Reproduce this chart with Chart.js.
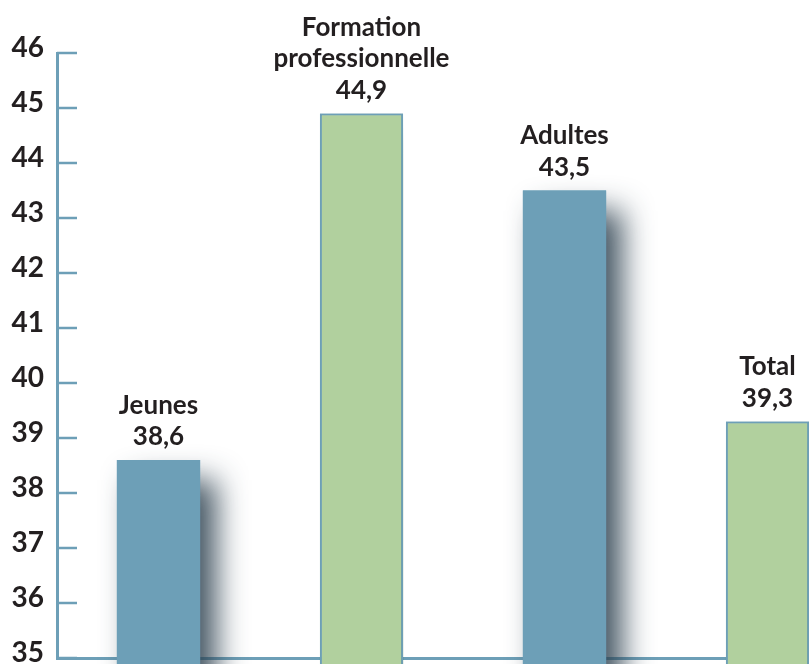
<!DOCTYPE html>
<html><head><meta charset="utf-8">
<script src="https://cdn.jsdelivr.net/npm/chart.js@4"></script>
<style>
html,body{margin:0;padding:0;overflow:hidden;background:#fff;width:809px;height:664px}
#wrap{width:869px;height:664px;position:relative}
</style></head>
<body><div id="wrap"><canvas id="c" width="869" height="664"></canvas></div>
<script>
const categories = [["Jeunes"], ["Formation", "professionnelle"], ["Adultes"], ["Total"]];
const values = [38.6, 44.9, 43.5, 39.3];
const yMin = 35, yMax = 46, yStep = 1;
const barColors = ['#6d9fb7', '#b1d09e', '#6d9fb7', '#b1d09e'];
const borderColors = ['#6d9fb7', '#6d9fb7', '#6d9fb7', '#6d9fb7'];
const borderWidths = [0, 2, 0, 2];
const shadowColors = ['rgba(45,65,80,0.9)', 'rgba(80,110,55,0.9)', 'rgba(45,65,80,0.9)', 'rgba(80,110,55,0.9)'];
const axisColor = '#6d9fb7';
const textColor = '#231f20';
const fmt = v => v.toFixed(1).replace('.', ',');

const shadowPlugin = {
  id: 'shadow',
  beforeDatasetDraw(chart, args) {
    const ctx = chart.ctx;
    args.meta.data.forEach((el, i) => {
      ctx.save();
      ctx.shadowColor = shadowColors[i];
      ctx.shadowBlur = 30;
      ctx.shadowOffsetX = 16;
      ctx.shadowOffsetY = 20;
      el.draw(ctx, chart.chartArea);
      ctx.restore();
      el.draw(ctx, chart.chartArea);
    });
    return false;
  }
};

const labelPlugin = {
  id: 'labels',
  afterDraw(chart) {
    const ctx = chart.ctx;
    const meta = chart.getDatasetMeta(0);
    ctx.save();
    ctx.fillStyle = textColor;
    ctx.textAlign = 'center';
    ctx.textBaseline = 'middle';
    ctx.font = '700 26px Lato';
    meta.data.forEach((el, i) => {
      const lines = categories[i].concat([fmt(values[i])]);
      const n = lines.length;
      lines.forEach((t, k) => {
        const y = el.y - 23 - (n - 1 - k) * 31.5;
        ctx.fillText(t, el.x, y);
      });
    });
    ctx.restore();
  }
};

const tickMarkPlugin = {
  id: 'tickmarks',
  afterDraw(chart) {
    const ctx = chart.ctx;
    const ys = chart.scales.y;
    ctx.save();
    ctx.strokeStyle = axisColor;
    ctx.lineWidth = 2.5;
    ys.ticks.forEach(t => {
      const y = ys.getPixelForValue(t.value);
      ctx.beginPath();
      ctx.moveTo(ys.right, y);
      ctx.lineTo(ys.right + 20, y);
      ctx.stroke();
    });
    ctx.restore();
  }
};

new Chart(document.getElementById('c'), {
  type: 'bar',
  data: {
    labels: categories,
    datasets: [{
      data: values,
      backgroundColor: barColors,
      borderColor: borderColors,
      borderWidth: borderWidths,
      barPercentage: 0.41,
      categoryPercentage: 1
    }]
  },
  options: {
    responsive: false,
    devicePixelRatio: 1,
    animation: false,
    layout: { padding: { top: 53, right: 0, left: 0, bottom: 0 } },
    plugins: { legend: { display: false }, tooltip: { enabled: false } },
    scales: {
      x: {
        z: 1,
        grid: { display: false },
        border: { display: true, color: axisColor, width: 3 },
        ticks: { display: false },
        afterFit: s => { s.height = 6; s.paddingLeft = 0; s.paddingRight = 0; }
      },
      y: {
        z: 1,
        min: yMin, max: yMax,
        grid: { display: false, drawTicks: false },
        border: { display: true, color: axisColor, width: 3 },
        ticks: {
          stepSize: yStep,
          padding: 13,
          labelOffset: -5,
          color: textColor,
          font: { family: 'Lato', size: 28, weight: '700' }
        },
        afterFit: s => { s.width = 57; s.paddingTop = 0; s.paddingBottom = 0; }
      }
    }
  },
  plugins: [shadowPlugin, labelPlugin, tickMarkPlugin]
});
</script>
</body></html>
